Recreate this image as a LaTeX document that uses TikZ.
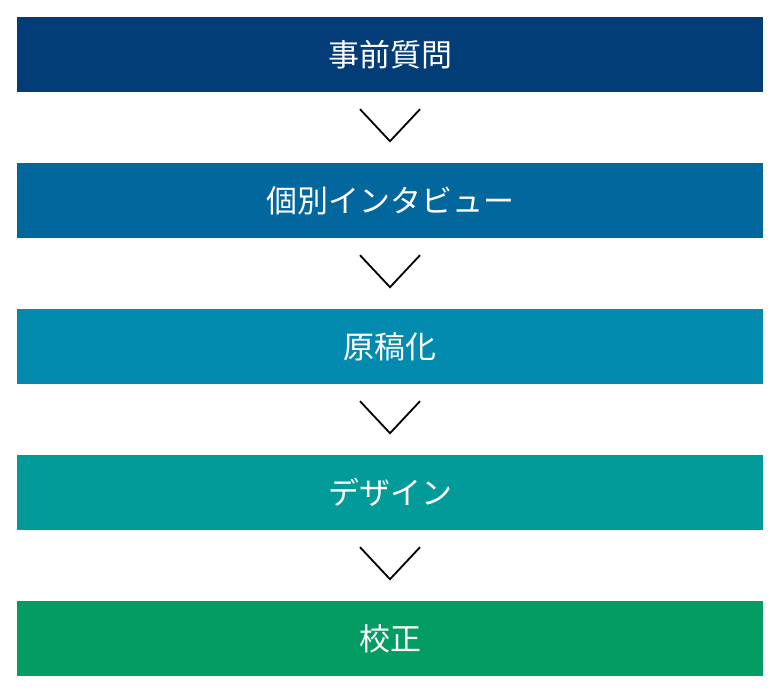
\documentclass[tikz,border=0pt]{standalone}
\usepackage{fontspec}
\newfontfamily\jpfont{Noto Sans CJK JP}
\usepackage{tikz}
\definecolor{stepA}{RGB}{3,61,119}
\definecolor{stepB}{RGB}{2,103,156}
\definecolor{stepC}{RGB}{2,138,175}
\definecolor{stepD}{RGB}{2,155,154}
\definecolor{stepE}{RGB}{3,156,98}
\begin{document}
\begin{tikzpicture}[x=1pt, y=1pt,
    stepbox/.style={rectangle, minimum width=746pt, minimum height=75pt, inner sep=0pt,
        text=white, font=\jpfont\fontsize{31}{31}\selectfont},
    chevron/.style={draw=black, line width=1.8pt}]
    \useasboundingbox (0,0) rectangle (780,-695);
    % Steps
    \foreach \name/\i/\col in {事前質問/1/stepA,個別インタビュー/2/stepB,原稿化/3/stepC,デザイン/4/stepD,校正/5/stepE} {
        \node[stepbox, fill=\col] (Step-\i) at (390,-54.5-\i*146+146) {\name};
    }
    % Chevrons
    \foreach \i in {1,2,3,4} {
        \draw[chevron] (Step-\i.south) ++(-30,-17) -- ++(30,-32) -- ++(30,32);
    }
\end{tikzpicture}
\end{document}
